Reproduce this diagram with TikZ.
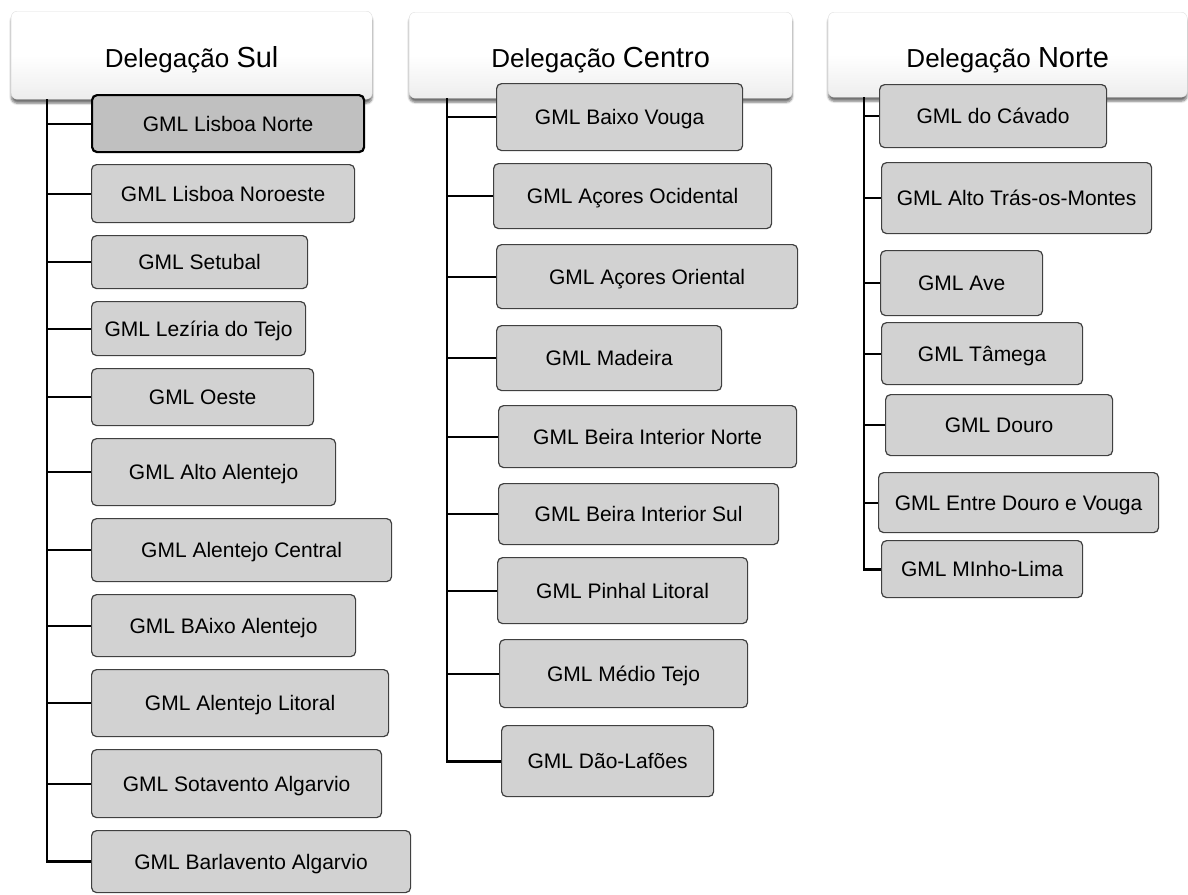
\documentclass[tikz,border=0pt]{standalone}
\usepackage{fontspec}
\setmainfont{Liberation Sans}
\usetikzlibrary{shadows.blur}

\definecolor{leafgray}{RGB}{210,210,210}
\definecolor{selgray}{RGB}{192,192,192}

\begin{document}
\begin{tikzpicture}[
    x=1pt, y=-1pt,
    deleg/.style={rectangle, rounded corners=6pt, draw=gray!25, top color=white, bottom color=gray!14, middle color=white, blur shadow={shadow xshift=0pt, shadow yshift=-4pt, shadow blur steps=6, shadow opacity=55}, font=\fontsize{26}{30}\selectfont, text height=25pt, text depth=0pt, anchor=north west, inner sep=0pt},
    leaf/.style={rectangle, rounded corners=5pt, draw=black!75, line width=1.2pt, fill=leafgray, font=\fontsize{21}{25}\selectfont, text height=15pt, text depth=0pt, anchor=north west, inner sep=0pt},
    leafsel/.style={leaf, draw=black, line width=2.2pt, fill=selgray},
    trunk/.style={line width=2.8pt},
    link/.style={line width=2pt}
]
\useasboundingbox (0,0) rectangle (1188,894);
% Delegations
\node[deleg, minimum width=361pt, minimum height=88pt] (sul) at (11,11) {Delegação {\fontsize{29}{32}\selectfont Sul}};
\node[deleg, minimum width=383pt, minimum height=86pt] (cen) at (409,12) {Delegação {\fontsize{29}{32}\selectfont Centro}};
\node[deleg, minimum width=359pt, minimum height=85pt] (nor) at (828,12) {Delegação {\fontsize{29}{32}\selectfont Norte}};
% Sul
\node[leafsel, minimum width=272pt, minimum height=57pt] (sul1) at (91,94) {GML Lisboa Norte};
\node[leaf, minimum width=263pt, minimum height=58pt] (sul2) at (91,164) {GML Lisboa Noroeste};
\node[leaf, minimum width=216pt, minimum height=53pt] (sul3) at (91,235) {GML Setubal};
\node[leaf, minimum width=214pt, minimum height=54pt] (sul4) at (91,301) {GML Lezíria do Tejo};
\node[leaf, minimum width=222pt, minimum height=57pt] (sul5) at (91,368) {GML Oeste};
\node[leaf, minimum width=244pt, minimum height=67pt] (sul6) at (91,438) {GML Alto Alentejo};
\node[leaf, minimum width=300pt, minimum height=63pt] (sul7) at (91,518) {GML Alentejo Central};
\node[leaf, minimum width=264pt, minimum height=62pt] (sul8) at (91,594) {GML BAixo Alentejo};
\node[leaf, minimum width=297pt, minimum height=67pt] (sul9) at (91,669) {GML Alentejo Litoral};
\node[leaf, minimum width=290pt, minimum height=68pt] (sul10) at (91,749) {GML Sotavento Algarvio};
\node[leaf, minimum width=319pt, minimum height=62pt] (sul11) at (91,830) {GML Barlavento Algarvio};
% Centro
\node[leaf, minimum width=246pt, minimum height=67pt] (cen1) at (496,83) {GML Baixo Vouga};
\node[leaf, minimum width=278pt, minimum height=65pt] (cen2) at (493,163) {GML Açores Ocidental};
\node[leaf, minimum width=301pt, minimum height=64pt] (cen3) at (496,244) {GML Açores Oriental};
\node[leaf, minimum width=225pt, minimum height=65pt] (cen4) at (496,325) {GML Madeira};
\node[leaf, minimum width=298pt, minimum height=62pt] (cen5) at (498,405) {GML Beira Interior Norte};
\node[leaf, minimum width=280pt, minimum height=61pt] (cen6) at (498,483) {GML Beira Interior Sul};
\node[leaf, minimum width=250pt, minimum height=66pt] (cen7) at (497,557) {GML Pinhal Litoral};
\node[leaf, minimum width=248pt, minimum height=68pt] (cen8) at (499,639) {GML Médio Tejo};
\node[leaf, minimum width=212pt, minimum height=71pt] (cen9) at (501,725) {GML Dão-Lafões};
% Norte
\node[leaf, minimum width=227pt, minimum height=63pt] (nor1) at (879,84) {GML do Cávado};
\node[leaf, minimum width=270pt, minimum height=71pt] (nor2) at (881,162) {GML Alto Trás-os-Montes};
\node[leaf, minimum width=162pt, minimum height=65pt] (nor3) at (880,250) {GML Ave};
\node[leaf, minimum width=201pt, minimum height=62pt] (nor4) at (881,322) {GML Tâmega};
\node[leaf, minimum width=227pt, minimum height=61pt] (nor5) at (885,394) {GML Douro};
\node[leaf, minimum width=280pt, minimum height=60pt] (nor6) at (878,472) {GML Entre Douro e Vouga};
\node[leaf, minimum width=201pt, minimum height=57pt] (nor7) at (881,540) {GML MInho-Lima};
% Trunks
\coordinate (sulx) at ([xshift=36pt]sul.south west);
\coordinate (cenx) at ([xshift=38pt]cen.south west);
\coordinate (norx) at ([xshift=36pt]nor.south west);
\draw[trunk] (sulx) |- (sul11.west);
\draw[trunk] (cenx) |- (cen9.west);
\draw[trunk] (norx) |- (nor7.west);
% Branches
\draw[link] (sulx |- sul1.west) -- (sul1.west);
\draw[link] (sulx |- sul2.west) -- (sul2.west);
\draw[link] (sulx |- sul3.west) -- (sul3.west);
\draw[link] (sulx |- sul4.west) -- (sul4.west);
\draw[link] (sulx |- sul5.west) -- (sul5.west);
\draw[link] (sulx |- sul6.west) -- (sul6.west);
\draw[link] (sulx |- sul7.west) -- (sul7.west);
\draw[link] (sulx |- sul8.west) -- (sul8.west);
\draw[link] (sulx |- sul9.west) -- (sul9.west);
\draw[link] (sulx |- sul10.west) -- (sul10.west);
\draw[link] (cenx |- cen1.west) -- (cen1.west);
\draw[link] (cenx |- cen2.west) -- (cen2.west);
\draw[link] (cenx |- cen3.west) -- (cen3.west);
\draw[link] (cenx |- cen4.west) -- (cen4.west);
\draw[link] (cenx |- cen5.west) -- (cen5.west);
\draw[link] (cenx |- cen6.west) -- (cen6.west);
\draw[link] (cenx |- cen7.west) -- (cen7.west);
\draw[link] (cenx |- cen8.west) -- (cen8.west);
\draw[link] (norx |- nor1.west) -- (nor1.west);
\draw[link] (norx |- nor2.west) -- (nor2.west);
\draw[link] (norx |- nor3.west) -- (nor3.west);
\draw[link] (norx |- nor4.west) -- (nor4.west);
\draw[link] (norx |- nor5.west) -- (nor5.west);
\draw[link] (norx |- nor6.west) -- (nor6.west);
\end{tikzpicture}
\end{document}
